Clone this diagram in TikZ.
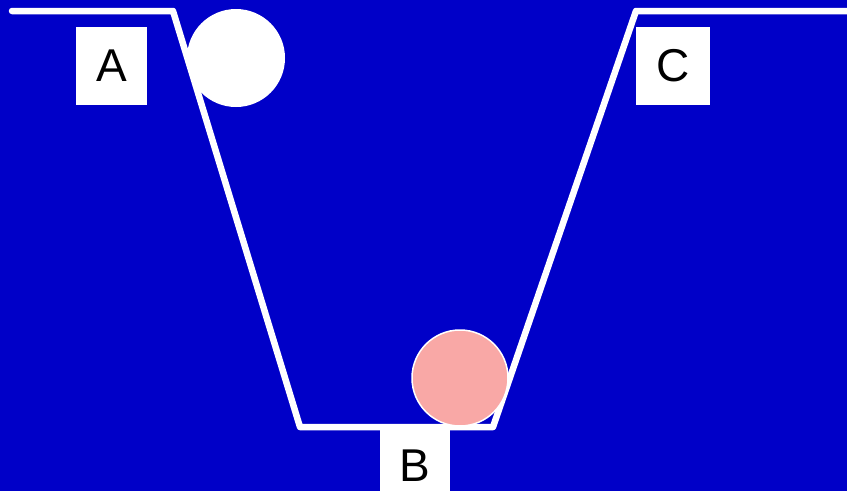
\documentclass[tikz,border=0pt]{standalone}
\usepackage{fontspec}
\setmainfont{Liberation Sans}
\definecolor{bg}{HTML}{0000C8}
\definecolor{pinkball}{HTML}{F9A8A6}
\begin{document}
\begin{tikzpicture}[x=1pt,y=-1pt,
  lbl/.style={fill=white,text=black,inner sep=0pt,font=\fontsize{46}{46}\selectfont},
  track/.style={draw=white,line width=6.5pt,line join=round,line cap=round}]
\fill[bg] (0,0) rectangle (847,491);
\useasboundingbox (0,0) rectangle (847,491);
\coordinate (p0) at (12,11);
\coordinate (p1) at (173,11);
\coordinate (p2) at (300,427);
\coordinate (p3) at (493,427);
\coordinate (p4) at (636,11);
\coordinate (p5) at (850,11);
\draw[track] (p0) -- (p1) -- (p2) -- (p3) -- (p4) -- (p5);
\node[lbl,minimum width=71pt,minimum height=78pt] (A) at (111.5,66) {A};
\node[lbl,minimum width=74pt,minimum height=78pt] (C) at (673,66) {C};
\node[lbl,minimum width=70pt,minimum height=64pt,anchor=north] (B) at (415,430) {};
\node[font=\fontsize{46}{46}\selectfont,inner sep=0pt] (Bt) at (415,466) {B};
\node[circle,fill=white,minimum size=98pt,inner sep=0pt] (ball1) at (236,58) {};
\node[circle,fill=pinkball,draw=white,line width=1.5pt,minimum size=96pt,inner sep=0pt] (ball2) at (460,378) {};
\end{tikzpicture}
\end{document}
